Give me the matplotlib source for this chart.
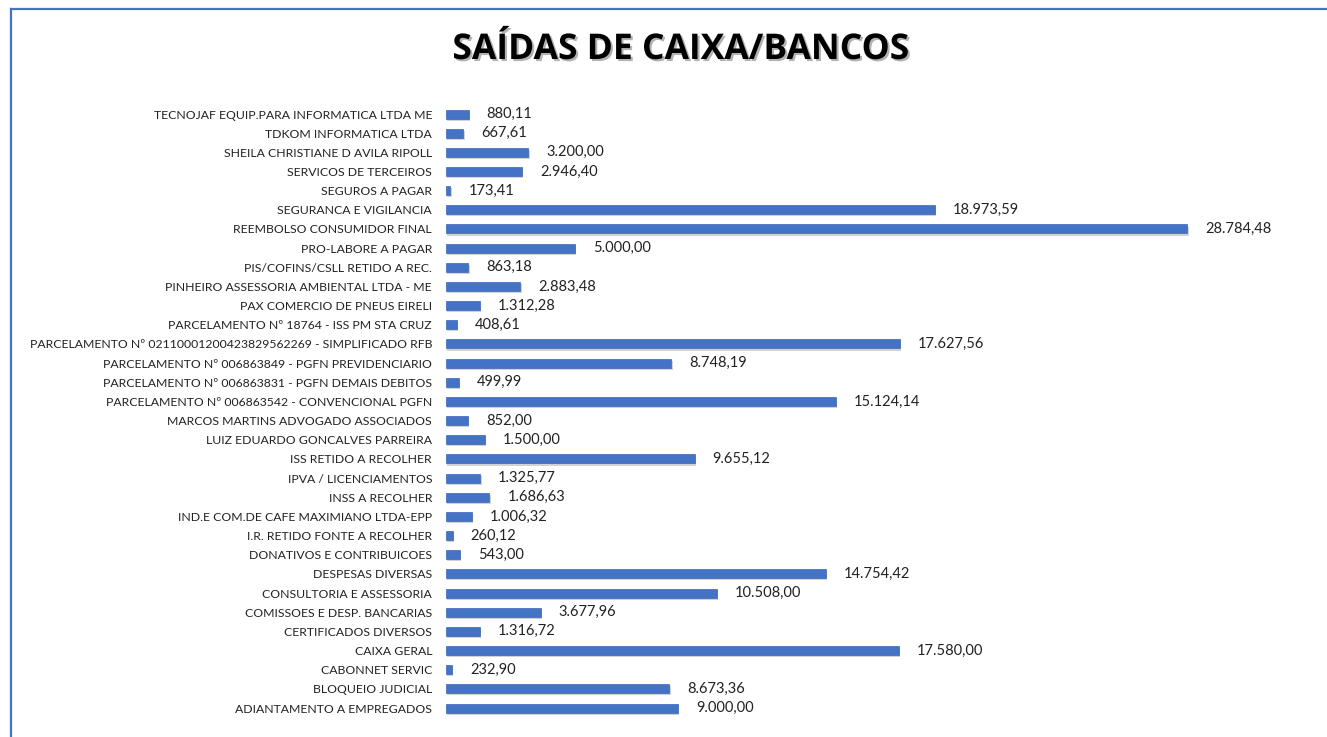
import matplotlib.pyplot as plt
import matplotlib.patheffects as pe
from matplotlib.lines import Line2D

categories = [
    "TECNOJAF EQUIP.PARA INFORMATICA LTDA ME",
    "TDKOM INFORMATICA LTDA",
    "SHEILA CHRISTIANE D AVILA RIPOLL",
    "SERVICOS DE TERCEIROS",
    "SEGUROS A PAGAR",
    "SEGURANCA E VIGILANCIA",
    "REEMBOLSO CONSUMIDOR FINAL",
    "PRO-LABORE A PAGAR",
    "PIS/COFINS/CSLL RETIDO A REC.",
    "PINHEIRO ASSESSORIA AMBIENTAL LTDA - ME",
    "PAX COMERCIO DE PNEUS EIRELI",
    "PARCELAMENTO Nº 18764 - ISS PM STA CRUZ",
    "PARCELAMENTO Nº 02110001200423829562269 - SIMPLIFICADO RFB",
    "PARCELAMENTO Nº 006863849 - PGFN PREVIDENCIARIO",
    "PARCELAMENTO Nº 006863831 - PGFN DEMAIS DEBITOS",
    "PARCELAMENTO Nº 006863542 - CONVENCIONAL PGFN",
    "MARCOS MARTINS ADVOGADO ASSOCIADOS",
    "LUIZ EDUARDO GONCALVES PARREIRA",
    "ISS RETIDO A RECOLHER",
    "IPVA / LICENCIAMENTOS",
    "INSS A RECOLHER",
    "IND.E COM.DE CAFE MAXIMIANO LTDA-EPP",
    "I.R. RETIDO FONTE A RECOLHER",
    "DONATIVOS E CONTRIBUICOES",
    "DESPESAS DIVERSAS",
    "CONSULTORIA E ASSESSORIA",
    "COMISSOES E DESP. BANCARIAS",
    "CERTIFICADOS DIVERSOS",
    "CAIXA GERAL",
    "CABONNET SERVIC",
    "BLOQUEIO JUDICIAL",
    "ADIANTAMENTO A EMPREGADOS",
]
values = [
    880.11, 667.61, 3200.00, 2946.40, 173.41, 18973.59, 28784.48, 5000.00,
    863.18, 2883.48, 1312.28, 408.61, 17627.56, 8748.19, 499.99, 15124.14,
    852.00, 1500.00, 9655.12, 1325.77, 1686.63, 1006.32, 260.12, 543.00,
    14754.42, 10508.00, 3677.96, 1316.72, 17580.00, 232.90, 8673.36, 9000.00,
]
title = "SAÍDAS DE CAIXA/BANCOS"

def fmt_br(v):
    s = f"{v:,.2f}"
    return s.replace(",", "X").replace(".", ",").replace("X", ".")

blue = "#4472C4"
font = ["Lato", "DejaVu Sans"]

fig = plt.figure(figsize=(13.27, 7.37), dpi=100)
fig.patch.set_facecolor("white")

# chart border (only top and left edges are in view)
fig.add_artist(Line2D([11 / 1327, 11 / 1327], [0, 1 - 9 / 737], color=blue, lw=1.6))
fig.add_artist(Line2D([11 / 1327, 1], [1 - 9 / 737, 1 - 9 / 737], color=blue, lw=1.6))

ax = fig.add_axes([446 / 1327, 0.0263, 1 - 446 / 1327 - 0.004, 0.832])

n = len(categories)
ypos = list(range(n))[::-1]
shadow = [pe.SimplePatchShadow(offset=(1, -1.5), alpha=0.18, shadow_rgbFace="black"), pe.Normal()]
bars = ax.barh(ypos, values, height=0.47, color=blue, edgecolor="#3A66B8", linewidth=0.5)
for b in bars:
    b.set_path_effects(shadow)

for y, v in zip(ypos, values):
    ax.annotate(fmt_br(v), xy=(v, y), xytext=(13, 0), textcoords="offset points",
                va="center", ha="left", fontsize=10.5, family=font, color="#222222")

ax.set_yticks(ypos)
ax.set_yticklabels(categories, family=font, fontsize=8.8, color="#222222")
ax.tick_params(axis="y", length=0, pad=10)
ax.set_xticks([])
ax.set_xlim(0, 34000)
ax.set_ylim(-0.5, n - 0.5)
for s in ax.spines.values():
    s.set_visible(False)

fig.text(680 / 1327, 1 - 50 / 737, title, ha="center", va="center", fontsize=25.5,
         fontweight="bold", family=["Open Sans", "DejaVu Sans"], color="black",
         path_effects=[pe.withSimplePatchShadow(offset=(1.5, -1.5), alpha=0.3)])

fig.savefig("out.png", dpi=100, facecolor="white")
